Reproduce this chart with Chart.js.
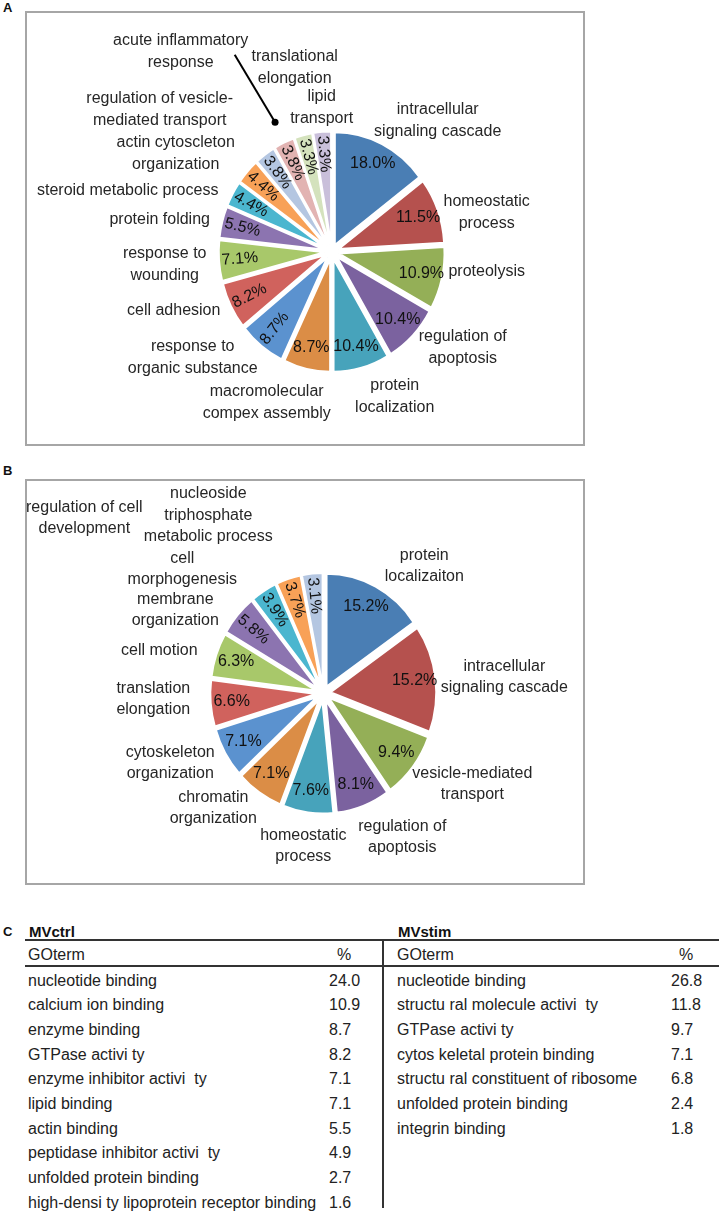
<!DOCTYPE html>
<html>
<head>
<meta charset="utf-8">
<script src="https://cdn.jsdelivr.net/npm/chart.js@4.4.1/dist/chart.umd.min.js"></script>
<style>
  body { margin: 0; background: #fff; font-family: "Liberation Sans", Arial, Helvetica, sans-serif; color: #222; }
  #page { position: relative; width: 719px; height: 1214px; overflow: hidden; }
  .panel { position: absolute; left: 3px; font-weight: bold; font-size: 13px; line-height: 15px; color: #111; }
  .box { position: absolute; left: 25px; width: 560px; border: 2px solid #a6a6a6; box-sizing: border-box; }
  .box canvas { position: absolute; left: 0; top: 0; }
  .cell { position: absolute; font-size: 16px; line-height: 20px; white-space: pre; color: #222; }
  .title { position: absolute; font-size: 15px; line-height: 18px; font-weight: bold; color: #111; }
  .rule { position: absolute; background: #333; }
</style>
</head>
<body>
<div id="page">
  <div class="panel" style="top:0px">A</div>
  <div class="box" style="top:11px;height:435px"><canvas id="pieA" width="556" height="431"></canvas></div>
  <div class="panel" style="top:463px">B</div>
  <div class="box" style="top:479px;height:406px"><canvas id="pieB" width="556" height="402"></canvas></div>
  <div class="panel" style="top:924px">C</div>
  <div id="tableC"></div>
</div>
<script>
// Panel A: GO terms (biological process), MVctrl
const termsA = [
  "intracellular\nsignaling cascade", "homeostatic\nprocess", "proteolysis",
  "regulation of\napoptosis", "protein\nlocalization", "macromolecular\ncompex assembly",
  "response to\norganic substance", "cell adhesion", "response to\nwounding",
  "protein folding", "steroid metabolic process", "actin cytoscleton\norganization",
  "regulation of vesicle-\nmediated transport", "acute inflammatory\nresponse",
  "translational\nelongation", "lipid\ntransport"
];
const pctA = [18.0, 11.5, 10.9, 10.4, 10.4, 8.7, 8.7, 8.2, 7.1, 5.5, 4.4, 4.4, 3.8, 3.8, 3.3, 3.3];

// Panel B: GO terms (biological process), MVstim
const termsB = [
  "protein\nlocalizaiton", "intracellular\nsignaling cascade", "vesicle-mediated\ntransport",
  "regulation of\napoptosis", "homeostatic\nprocess", "chromatin\norganization",
  "cytoskeleton\norganization", "translation\nelongation", "cell motion",
  "membrane\norganization", "cell\nmorphogenesis", "nucleoside\ntriphosphate\nmetabolic process",
  "regulation of cell\ndevelopment"
];
const pctB = [15.2, 15.2, 9.4, 8.1, 7.6, 7.1, 7.1, 6.6, 6.3, 5.8, 3.9, 3.7, 3.1];

// Panel C: GO terms (molecular function)
const ctrlTerms = [
  "nucleotide binding", "calcium ion binding", "enzyme binding", "GTPase activi ty",
  "enzyme inhibitor activi  ty", "lipid binding", "actin binding",
  "peptidase inhibitor activi  ty", "unfolded protein binding",
  "high-densi ty lipoprotein receptor binding"
];
const ctrlPct = [24.0, 10.9, 8.7, 8.2, 7.1, 7.1, 5.5, 4.9, 2.7, 1.6];
const stimTerms = [
  "nucleotide binding", "structu ral molecule activi  ty", "GTPase activi ty",
  "cytos keletal protein binding", "structu ral constituent of ribosome",
  "unfolded protein binding", "integrin binding"
];
const stimPct = [26.8, 11.8, 9.7, 7.1, 6.8, 2.4, 1.8];

// ---- look ----
const palette = [
  "#4a7eb4", "#b5514e", "#94af57", "#7b629f", "#47a3bb", "#db8d46",
  "#5b92cf", "#d0625d", "#a8c86a", "#8c74b0", "#4bb6cf", "#f8a157",
  "#b4c6e1", "#e2b3b2", "#d4e2bd", "#c9bfda"
];
const PIE_R = 106;      // radius in px
const EXPLODE = 7;      // every slice pulled out by this much
const STRETCH = 1.065;  // the original pies are a bit taller than wide
const PCT_R = 85;       // where the % text sits
const LINE_H = 21.5;

// label placement relative to the pie centre (hand placed in the original)
const labelAtA = [
  [106, -131], [155, -39], [155, 20], [131, 96], [63, 145], [-65, 151],
  [-139, 106], [-158, 59], [-167, 13], [-172, -32], [-204, -61], [-156, -98],
  [-172, -142], [-151, -200], [-37, -184], [-10, -144]
];
const labelAtB = [
  [101, -127], [181, -16], [149, 91], [79, 144], [-20, 153], [-110, 115],
  [-153, 70], [-170, 6], [-164, -43], [-148, -83], [-141, -124], [-115, -178],
  [-239, -175]
];

function padFor(w, h, cx, cy) {
  const dx = 2 * cx - w, dy = 2 * cy - h;
  return { left: Math.max(dx, 0), right: Math.max(-dx, 0), top: Math.max(dy, 0), bottom: Math.max(-dy, 0) };
}

const pieText = {
  id: 'pieText',
  // draw arcs ourselves so every slice is exploded by the same amount
  beforeDatasetDraw(chart, args) {
    const ctx = chart.ctx;
    const arcs = args.meta.data;
    const cx = arcs[0].x, cy = arcs[0].y;
    arcs.forEach(arc => {
      const mid = (arc.startAngle + arc.endAngle) / 2;
      ctx.save();
      ctx.translate(cx, cy);
      ctx.scale(1, STRETCH);
      ctx.translate(Math.cos(mid) * EXPLODE, Math.sin(mid) * EXPLODE);
      ctx.translate(-cx, -cy);
      arc.draw(ctx);
      ctx.restore();
    });
    return false;
  },
  afterDraw(chart, args, opts) {
    const ctx = chart.ctx;
    const arcs = chart.getDatasetMeta(0).data;
    const cx = arcs[0].x, cy = arcs[0].y;
    const values = chart.data.datasets[0].data;
    ctx.save();
    ctx.font = '16px "Liberation Sans", Arial, sans-serif';
    ctx.textAlign = 'center';
    ctx.textBaseline = 'middle';

    // category names
    ctx.fillStyle = '#262626';
    chart.data.labels.forEach((name, i) => {
      const [dx, dy] = opts.at[i];
      const lines = name.split('\n');
      lines.forEach((ln, k) => {
        ctx.fillText(ln, cx + dx, cy + dy + (k - (lines.length - 1) / 2) * LINE_H);
      });
    });

    // percentages inside the slices
    ctx.fillStyle = '#111';
    arcs.forEach((arc, i) => {
      const mid = (arc.startAngle + arc.endAngle) / 2;
      const r = PCT_R + EXPLODE;
      const x = cx + Math.cos(mid) * r;
      const y = cy + Math.sin(mid) * r * STRETCH;
      ctx.save();
      ctx.translate(x, y);
      if (i >= opts.rotateFrom) ctx.rotate(mid + Math.PI);
      ctx.fillText(values[i].toFixed(1) + '%', 0, 0);
      ctx.restore();
    });

    // leader line with dot
    if (opts.leader) {
      const L = opts.leader;
      const arc = arcs[L.slice];
      const mid = (arc.startAngle + arc.endAngle) / 2;
      const ex = cx + Math.cos(mid) * L.reach;
      const ey = cy + Math.sin(mid) * L.reach * STRETCH;
      ctx.strokeStyle = '#000';
      ctx.lineWidth = 2;
      ctx.beginPath();
      ctx.moveTo(cx + L.from[0], cy + L.from[1]);
      ctx.lineTo(ex, ey);
      ctx.stroke();
      ctx.fillStyle = '#000';
      ctx.beginPath();
      ctx.arc(ex, ey, 3.5, 0, Math.PI * 2);
      ctx.fill();
    }
    ctx.restore();
  }
};

function makePie(id, labels, values, centre, textOpts) {
  const canvas = document.getElementById(id);
  return new Chart(canvas, {
    type: 'pie',
    data: {
      labels: labels,
      datasets: [{
        data: values,
        backgroundColor: palette.slice(0, values.length),
        borderColor: '#fff',
        borderWidth: 2,
        radius: PIE_R,
        clip: false
      }]
    },
    options: {
      responsive: false,
      animation: false,
      events: [],
      layout: { padding: padFor(canvas.width, canvas.height, centre[0], centre[1]) },
      plugins: {
        legend: { display: false },
        tooltip: { enabled: false },
        pieText: textOpts
      }
    },
    plugins: [pieText]
  });
}

makePie('pieA', termsA, pctA, [304.7, 238.7], {
  at: labelAtA, rotateFrom: 6,
  leader: { slice: 13, from: [-97, -197], reach: 134 }
});
makePie('pieB', termsB, pctB, [296.3, 212.3], { at: labelAtB, rotateFrom: 9 });

// ---- table C ----
const tableC = document.getElementById('tableC');
function put(cls, text, x, top) {
  const d = document.createElement('div');
  d.className = cls;
  d.textContent = text;
  d.style.left = x + 'px';
  d.style.top = top + 'px';
  tableC.appendChild(d);
}
function rule(x, y, w, h) {
  const d = document.createElement('div');
  d.className = 'rule';
  Object.assign(d.style, { left: x + 'px', top: y + 'px', width: w + 'px', height: h + 'px' });
  tableC.appendChild(d);
}
const ROW0 = 986, ROW_H = 24.7, BASE = 15.5;
function goTable(title, terms, pct, xTerm, xPct) {
  put('title', title, xTerm + 1, 937 - 14.2);
  put('cell', 'GOterm', xTerm, 960 - BASE);
  put('cell', '%', xPct + 8, 960 - BASE);
  terms.forEach((t, i) => {
    put('cell', t, xTerm, ROW0 + i * ROW_H - BASE);
    put('cell', pct[i].toFixed(1), xPct, ROW0 + i * ROW_H - BASE);
  });
}
goTable('MVctrl', ctrlTerms, ctrlPct, 28, 329);
goTable('MVstim', stimTerms, stimPct, 397, 671);
rule(25, 939, 694, 2);
rule(25, 965, 694, 2);
rule(382, 940, 2, 268);
</script>
</body>
</html>
